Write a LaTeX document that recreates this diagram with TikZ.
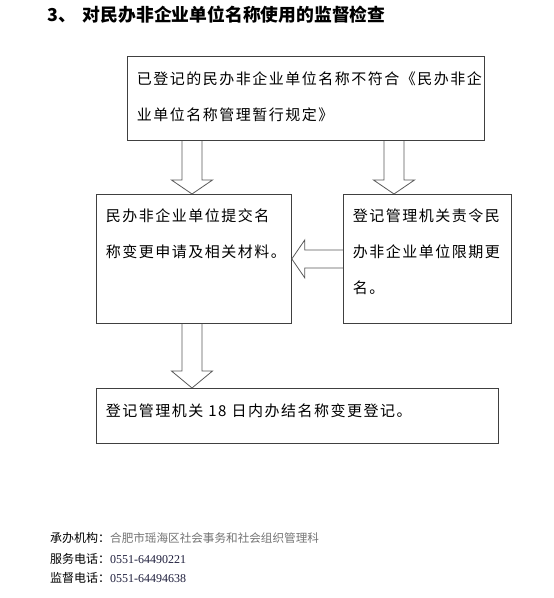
\documentclass[tikz,border=0pt]{standalone}
\usepackage{fontspec}
\setmainfont{Liberation Serif}
\newfontfamily\cjk{Noto Sans CJK SC}
\newfontfamily\cjkwide[LetterSpace=10]{Noto Sans CJK SC}
\usetikzlibrary{positioning,calc}

\definecolor{footgray}{gray}{0.45}
\definecolor{numcol}{RGB}{30,30,60}

\begin{document}
\begin{tikzpicture}[x=1pt,y=-1pt,
    box/.style={draw=black!75,line width=0.8pt,anchor=north west,align=left,
      inner xsep=9.5pt,inner ysep=0pt,text height=27pt,
      font=\cjkwide\fontsize{15pt}{36pt}\selectfont},
    blockarr/.style={draw=black!65,line width=0.8pt,line join=miter},
    heading/.style={anchor=base west,inner sep=0pt,
      font=\cjk\bfseries\fontsize{17.8pt}{20pt}\selectfont},
    foot/.style={anchor=base west,inner sep=0pt,
      font=\cjk\fontsize{12pt}{14pt}\selectfont}]
  \useasboundingbox (0,0) rectangle (554,598);

  % heading
  \node[heading] (title) at (47,21) {3、\hspace{7pt}对民办非企业单位名称使用的监督检查};

  % boxes
  \node[box,text width=338pt,text height=28pt,text depth=56pt] (top) at (127,56)
    {已登记的民办非企业单位名称不符合《民办非企\\业单位名称管理暂行规定》};
  \node[box,text width=176pt,text depth=102pt] (left) at (96,194)
    {民办非企业单位提交名\\称变更申请及相关材料。};
  \node[box,text width=149pt,text depth=102pt] (right) at (343,194)
    {登记管理机关责令民\\办非企业单位限期更\\名。};
  \node[box,text width=383pt,text height=28pt,text depth=27pt] (last) at (96,388)
    {登记管理机关 18 日内办结名称变更登记。};

  % block arrows
  \coordinate (a1s) at ([xshift=65pt]top.south west);
  \coordinate (a1e) at (a1s |- left.north);
  \coordinate (a2s) at ([xshift=267pt]top.south west);
  \coordinate (a2e) at (a2s |- right.north);
  \coordinate (a3s) at ([xshift=96pt]left.south west);
  \coordinate (a3e) at (a3s |- last.north);
  \foreach \s/\e/\h in {a1s/a1e/14,a2s/a2e/14,a3s/a3e/17}
    \draw[blockarr] ([xshift=-10pt]\s) -- ([shift={(-10pt,\h pt)}]\e)
      -- ([shift={(-20.5pt,\h pt)}]\e) -- (\e) -- ([shift={(20.5pt,\h pt)}]\e)
      -- ([shift={(10pt,\h pt)}]\e) -- ([xshift=10pt]\s);
  \draw[blockarr] ([yshift=9pt]right.west) -- ([shift={(13pt,9pt)}]left.east)
    -- ([shift={(13pt,19pt)}]left.east) -- (left.east)
    -- ([shift={(13pt,-19pt)}]left.east) -- ([shift={(13pt,-9pt)}]left.east)
    -- ([yshift=-9pt]right.west);

  % footer
  \node[foot] (org) at (50,542) {承办机构：{\color{footgray}\fontsize{11.6pt}{14pt}\selectfont 合肥市瑶海区社会事务和社会组织管理科}};
  \node[foot] (tel) at (50,563) {服务电话：{\rmfamily\color{numcol}0551-64490221}};
  \node[foot] (sup) at (50,582) {监督电话：{\rmfamily\color{numcol}0551-64494638}};
\end{tikzpicture}
\end{document}
